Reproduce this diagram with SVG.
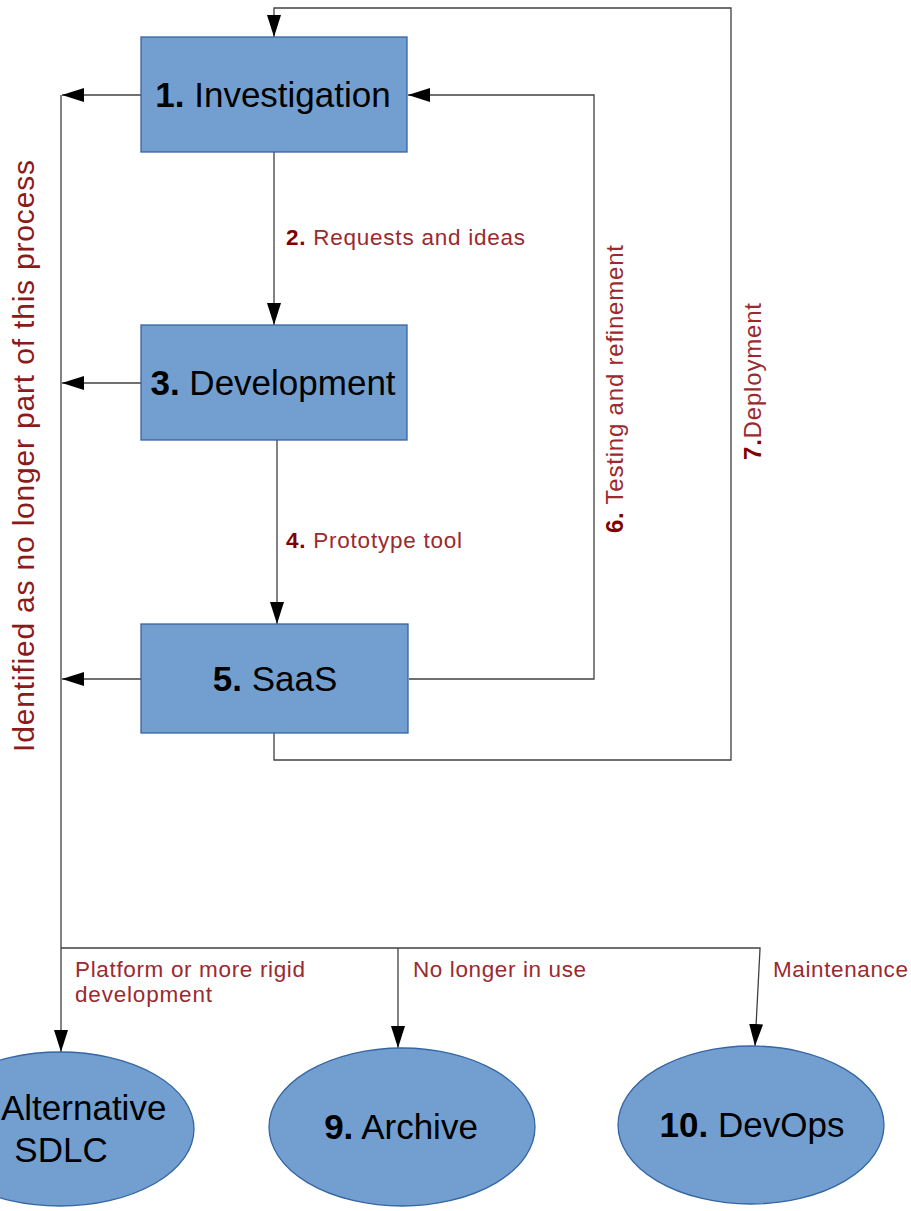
<svg xmlns="http://www.w3.org/2000/svg" width="911" height="1211" viewBox="0 0 911 1211">
<defs>
<style>
.box{fill:#729fcf;stroke:#3465a4;stroke-width:1.3}
.nl{font-family:"Liberation Sans",Arial,sans-serif;font-size:35px;fill:#000}
.lbl{font-family:"Liberation Sans",Arial,sans-serif;font-size:22.5px;fill:#9b2a2e}
.b{font-weight:bold;fill:#800000}
.ln{fill:none;stroke:#404040;stroke-width:1.3}
</style>
<marker id="ah" markerUnits="userSpaceOnUse" markerWidth="22" markerHeight="14" refX="22" refY="7" orient="auto">
<path d="M0,0 L22,7 L0,14 z" fill="#000"/>
</marker>
</defs>
<rect width="911" height="1211" fill="#fff"/>
<g id="connectors">
<path class="ln" d="M141,95 H62" marker-end="url(#ah)"/>
<path class="ln" d="M141,383 H62" marker-end="url(#ah)"/>
<path class="ln" d="M141,679 H62" marker-end="url(#ah)"/>
<path class="ln" d="M274,152 V325" marker-end="url(#ah)"/>
<path class="ln" d="M277,440 V624" marker-end="url(#ah)"/>
<path class="ln" d="M409,679 H594 V95 H408" marker-end="url(#ah)"/>
<path class="ln" d="M274,733 V760 H731 V8 H274 V37" marker-end="url(#ah)"/>
<path class="ln" d="M61,95 V1052" marker-end="url(#ah)"/>
<path class="ln" d="M61,948 H760 V949 L755,1046" marker-end="url(#ah)"/>
<path class="ln" d="M398,948 V1048" marker-end="url(#ah)"/>
</g>
<g id="labels">
<text class="lbl" x="286" y="245" textLength="239" lengthAdjust="spacing"><tspan class="b">2.</tspan> Requests and ideas</text>
<text class="lbl" x="286" y="548" textLength="176" lengthAdjust="spacing"><tspan class="b">4.</tspan> Prototype tool</text>
<text class="lbl" transform="translate(623,533) rotate(-90)" textLength="288" lengthAdjust="spacing" style="font-size:24px"><tspan class="b">6.</tspan> Testing and refinement</text>
<text class="lbl" transform="translate(761,460) rotate(-90)" textLength="157" lengthAdjust="spacing" style="font-size:24px"><tspan class="b">7.</tspan>Deployment</text>
<text class="lbl" transform="translate(34,752) rotate(-90)" textLength="592" lengthAdjust="spacing" style="font-size:30px;fill:#8b1a1a">Identified as no longer part of this process</text>
<text class="lbl" x="75" y="977" textLength="230" lengthAdjust="spacing">Platform or more rigid</text>
<text class="lbl" x="75" y="1002" textLength="137" lengthAdjust="spacing">development</text>
<text class="lbl" x="413" y="977" textLength="173" lengthAdjust="spacing">No longer in use</text>
<text class="lbl" x="773" y="977" textLength="135" lengthAdjust="spacing">Maintenance</text>
</g>
<g id="n1">
<rect class="box" x="141" y="37" width="266" height="115"/>
<text class="nl" x="273" y="107" text-anchor="middle"><tspan font-weight="bold">1.</tspan> Investigation</text>
</g>
<g id="n3">
<rect class="box" x="141" y="325" width="266" height="115"/>
<text class="nl" x="273" y="395" text-anchor="middle"><tspan font-weight="bold">3.</tspan> Development</text>
</g>
<g id="n5">
<rect class="box" x="141" y="624" width="267" height="109"/>
<text class="nl" x="275" y="691" text-anchor="middle"><tspan font-weight="bold">5.</tspan> SaaS</text>
</g>
<g id="n8">
<ellipse class="box" cx="60" cy="1129" rx="134" ry="77"/>
<text class="nl" x="1" y="1120">Alternative</text>
<text class="nl" x="61" y="1162" text-anchor="middle">SDLC</text>
</g>
<g id="n9">
<ellipse class="box" cx="402" cy="1127" rx="133" ry="79"/>
<text class="nl" x="401" y="1139" text-anchor="middle"><tspan font-weight="bold">9.</tspan> Archive</text>
</g>
<g id="n10">
<ellipse class="box" cx="751" cy="1125" rx="133" ry="79"/>
<text class="nl" x="752" y="1137" text-anchor="middle"><tspan font-weight="bold">10.</tspan> DevOps</text>
</g>
</svg>
